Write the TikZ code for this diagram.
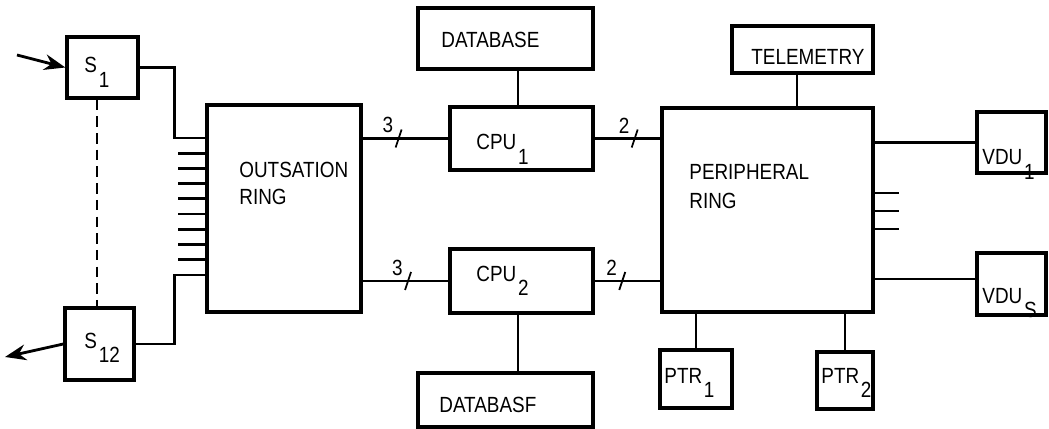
\documentclass[tikz,border=0pt]{standalone}
\usepackage{fontspec}
\setmainfont{Liberation Sans}[FakeStretch=0.86]
\usetikzlibrary{arrows.meta, positioning}
\newcommand{\lowsub}[1]{\kern1pt\raisebox{-8pt}{#1}}

\begin{document}
\begin{tikzpicture}[x=0.02cm, y=-0.02cm, line width=1.6pt]
    \tikzstyle{unit}=[draw, line width=1.9pt, inner sep=0]
    \tikzstyle{lbl}=[inner sep=0, anchor=base west, font=\fontsize{12.5}{14}\selectfont]
    \tikzstyle{in out}=[-{Stealth[length=12pt, width=9pt]}]
    \tikzset{busmark/.pic={
        \draw[line width=1pt] (-3,9) -- (3,-9);
        \node[lbl, anchor=south east] at (-4,-4) {#1};
    }}

    \useasboundingbox (0,0) rectangle (1049,429);

    % stations
    \node[unit, minimum width=1.42cm, minimum height=1.22cm] (s1) at (102.5,67.5) {};
    \node[unit, minimum width=1.38cm, minimum height=1.44cm] (s12) at (99.5,344) {};
    \node[unit, minimum width=3.08cm, minimum height=4.14cm] (out) at (284,208.5) {};

    % processors and data
    \node[unit, minimum width=2.86cm, minimum height=1.26cm] (cpu1) at (521.5,138.5) {};
    \node[unit, minimum width=2.86cm, minimum height=1.28cm] (cpu2) at (521.5,281) {};
    \node[unit, minimum width=3.5cm, minimum height=1.22cm] (db1) at (505.5,38.5) {};
    \node[unit, minimum width=3.5cm, minimum height=1.08cm] (db2) at (505.5,400) {};

    % peripherals
    \node[unit, minimum width=4.22cm, minimum height=4.08cm] (per) at (767.5,210) {};
    \node[unit, minimum width=2.82cm, minimum height=0.94cm] (tel) at (802.5,49.5) {};
    \node[unit, minimum width=1.38cm, minimum height=1.22cm] (vdu1) at (1011.5,142.5) {};
    \node[unit, minimum width=1.38cm, minimum height=1.24cm] (vdus) at (1011.5,284) {};
    \node[unit, minimum width=1.44cm, minimum height=1.16cm] (ptr1) at (696,379) {};
    \node[unit, minimum width=1.12cm, minimum height=1.14cm] (ptr2) at (845,380.5) {};

    % texts
    \node[lbl] (s1 text) at (83,73) {S\lowsub{1}};
    \node[lbl] (s12 text) at (83,348) {S\lowsub{12}};
    \node[lbl] (out text) at (238,177) {OUTSATION};
    \node[lbl] (out text2) at (238,205) {RING};
    \node[lbl] (db1 text) at (440,48) {DATABASE};
    \node[lbl] (db2 text) at (438,412) {DATABASF};
    \node[lbl] (cpu1 text) at (475,150) {CPU\lowsub{1}};
    \node[lbl] (cpu2 text) at (475,281) {CPU\lowsub{2}};
    \node[lbl] (per text) at (688,180) {PERIPHERAL};
    \node[lbl] (per text2) at (688,209) {RING};
    \node[lbl] (tel text) at (750,65) {TELEMETRY};
    \node[lbl] (vdu1 text) at (981,165) {VDU\lowsub{1}};
    \node[lbl] (vdus text) at (981,303) {VDU\lowsub{S}};
    \node[lbl] (ptr1 text) at (663,383) {PTR\lowsub{1}};
    \node[lbl] (ptr2 text) at (820,383) {PTR\lowsub{2}};

    \coordinate (feed in) at (17,55);
    \coordinate (feed out) at (5,357);

    \draw[in out] (feed in) -- (s1.west);
    \draw[in out] (s12.west) -- (feed out);
    \draw[dash pattern=on 6pt off 3.5pt] (s1.south -| 97,0) -- (s12.north -| 97,0);

    \draw (s1.east) -- ++(35,0) |- (out.west |- 0,138);
    \draw (s12.east) -- ++(39,0) |- (out.west |- 0,275);
    \foreach \k in {1,...,8}
        \draw (out.west |- 0,{138+15.2*\k}) -- ++(-27,0);

    \draw (out.east |- cpu1) -- pic[pos=.42]{busmark=3} (cpu1.west);
    \draw (out.east |- cpu2) -- pic[pos=.53]{busmark=3} (cpu2.west);
    \draw (cpu1.east) -- pic[pos=.61]{busmark=2} (per.west |- cpu1);
    \draw (cpu2.east) -- pic[pos=.42]{busmark=2} (per.west |- cpu2);
    \draw (db1.south -| 518,0) -- (cpu1.north -| 518,0);
    \draw (cpu2.south -| 518,0) -- (db2.north -| 518,0);

    \draw (tel.south -| 797,0) -- (per.north -| 797,0);
    \draw (per.east |- vdu1) -- (vdu1.west);
    \draw (per.east |- 0,279) -- (vdus.west |- 0,279);
    \foreach \y in {193,211,229}
        \draw (per.east |- 0,\y) -- ++(24,0);
    \draw (ptr1.north) -- (ptr1.north |- per.south);
    \draw (ptr2.north) -- (ptr2.north |- per.south);
\end{tikzpicture}
\end{document}
